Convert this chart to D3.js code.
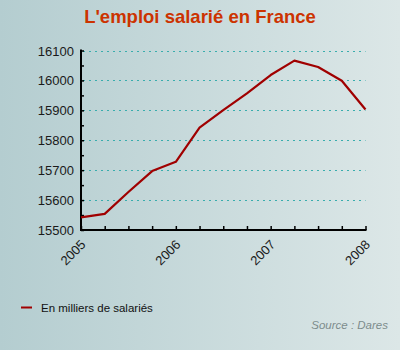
<!DOCTYPE html>
<html><head><meta charset="utf-8">
<script src="https://cdn.jsdelivr.net/npm/d3@7"></script>
<style>body{margin:0;}svg{display:block;}</style>
</head><body>
<script>
const periods = [2005, 2005.25, 2005.5, 2005.75, 2006, 2006.25, 2006.5, 2006.75, 2007, 2007.25, 2007.5, 2007.75, 2008];
const values = [15542, 15554, 15627, 15697, 15728, 15842, 15901, 15957, 16018, 16066, 16045, 15999, 15903];
const yTicks = [15500, 15600, 15700, 15800, 15900, 16000, 16100];
const xLabels = [2005, 2006, 2007, 2008];
const title = "L'emploi salarié en France";
const seriesName = "En milliers de salariés";
const source = "Source : Dares";

const W = 400, H = 350;
const svg = d3.select("body").append("svg").attr("width", W).attr("height", H);
const defs = svg.append("defs");
const g = defs.append("linearGradient").attr("id", "bg").attr("x1", 0).attr("x2", 1).attr("y1", 0).attr("y2", 0);
g.append("stop").attr("offset", 0).attr("stop-color", "#b4cdd0");
g.append("stop").attr("offset", 1).attr("stop-color", "#dce7e7");
svg.append("rect").attr("width", W).attr("height", H).attr("fill", "url(#bg)");

const x = d3.scaleLinear().domain([2005, 2008]).range([81, 365.5]);
const y = d3.scaleLinear().domain([15500, 16100]).range([230, 50.5]);

svg.append("text").attr("x", 200).attr("y", 23).attr("text-anchor", "middle")
  .attr("font-family", "Liberation Sans, Arial, sans-serif").attr("font-weight", "bold")
  .attr("font-size", 18.5).attr("fill", "#cc3300").text(title);

// grid
svg.append("g").selectAll("line").data(yTicks.filter(v => v > 15500)).join("line")
  .attr("x1", x(2005) + 2).attr("x2", x(2008)).attr("y1", d => Math.round(y(d)) + 0.5).attr("y2", d => Math.round(y(d)) + 0.5)
  .attr("stroke", "#3aadad").attr("stroke-width", 1).attr("stroke-dasharray", "2,4");

// y axis
const yAxis = d3.axisRight(y).tickValues(d3.range(15500, 16101, 50)).tickSize(3).tickFormat("");
const ya = svg.append("g").attr("transform", `translate(${x(2005)},0)`).call(yAxis);
ya.select(".domain").remove();
ya.selectAll("line").attr("stroke", "#000").attr("stroke-width", 1.5);
svg.append("line").attr("x1", x(2005)).attr("x2", x(2005)).attr("y1", y(16100) - 1).attr("y2", y(15500) + 1)
  .attr("stroke", "#000").attr("stroke-width", 2);
svg.append("g").selectAll("text").data(yTicks).join("text")
  .attr("x", 74).attr("y", d => y(d) + 5).attr("text-anchor", "end")
  .attr("font-family", "Liberation Sans, Arial, sans-serif").attr("font-size", 13).attr("fill", "#1a1a1a")
  .text(d => d);

// x axis
const xAxis = d3.axisTop(x).tickValues(periods).tickSize(4).tickFormat("");
const xa = svg.append("g").attr("transform", `translate(0,${y(15500)})`).call(xAxis);
xa.select(".domain").remove();
xa.selectAll("line").attr("stroke", "#000").attr("stroke-width", 1.5);
svg.append("line").attr("x1", x(2005) - 1).attr("x2", x(2008) + 1).attr("y1", y(15500)).attr("y2", y(15500))
  .attr("stroke", "#000").attr("stroke-width", 2);
svg.append("g").selectAll("text").data(xLabels).join("text")
  .attr("transform", d => `translate(${x(d) - 1},${y(15500) + 9}) rotate(-45)`)
  .attr("text-anchor", "end").attr("dy", "0.7em")
  .attr("font-family", "Liberation Sans, Arial, sans-serif").attr("font-size", 13).attr("fill", "#1a1a1a")
  .text(d => d);

// line
const line = d3.line().x((d, i) => x(periods[i])).y(d => y(d));
svg.append("path").datum(values).attr("d", line).attr("fill", "none")
  .attr("stroke", "#a00000").attr("stroke-width", 2.2).attr("stroke-linejoin", "round");

// legend
svg.append("line").attr("x1", 21).attr("x2", 32).attr("y1", 307.5).attr("y2", 307.5).attr("stroke", "#a00000").attr("stroke-width", 2);
svg.append("text").attr("x", 41).attr("y", 312)
  .attr("font-family", "Liberation Sans, Arial, sans-serif").attr("font-size", 11.5).attr("fill", "#111").text(seriesName);
svg.append("text").attr("x", 388).attr("y", 329).attr("text-anchor", "end")
  .attr("font-family", "Liberation Sans, Arial, sans-serif").attr("font-style", "italic").attr("font-size", 11.5).attr("fill", "#7d8c8c").text(source);
</script>
</body></html>
